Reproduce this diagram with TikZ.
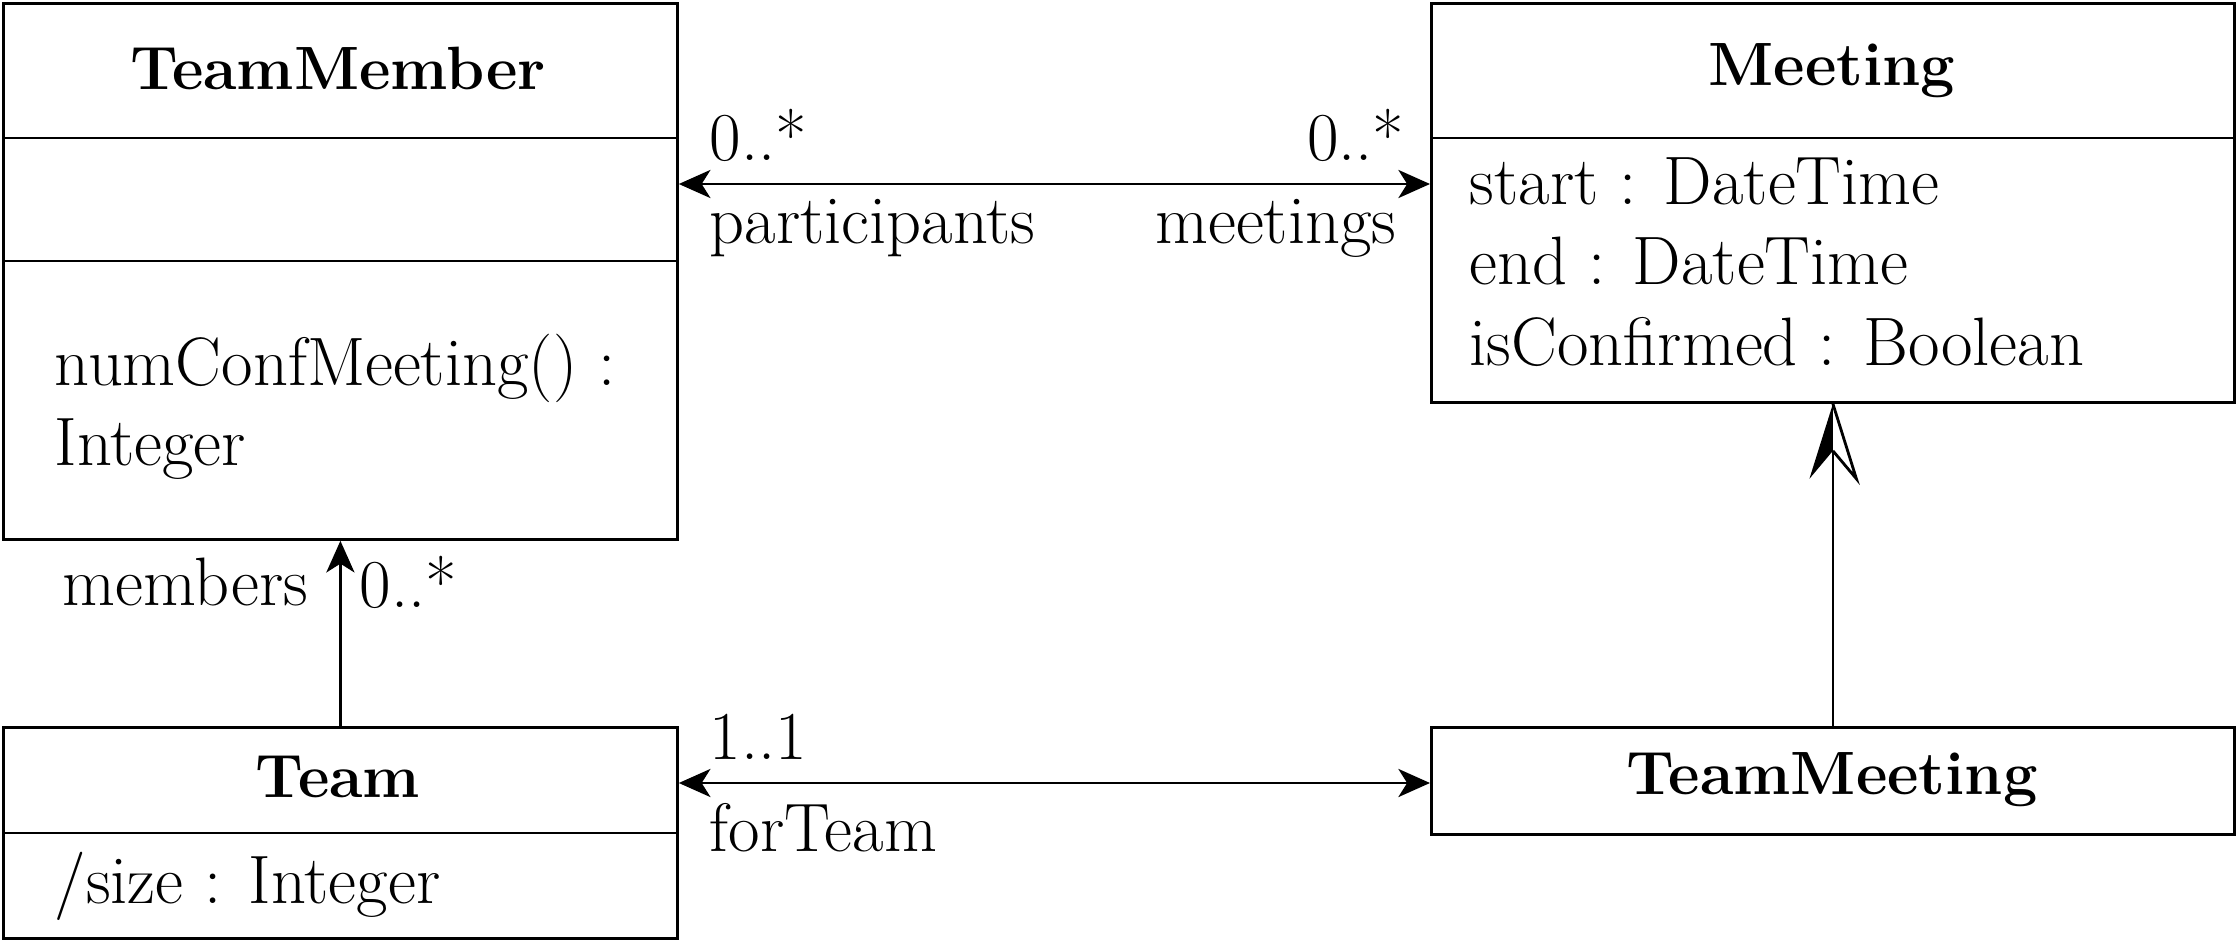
\documentclass[tikz,border=0pt]{standalone}
\usepackage{fontspec}
\usetikzlibrary{arrows.meta,calc}

\begin{document}
\begin{tikzpicture}[
	font=\fontsize{19.5}{23}\selectfont,
	cls/.style={draw, line width=0.8pt, inner sep=0pt, anchor=north west},
	clsname/.style={font=\fontsize{17.4}{21}\selectfont\bfseries, inner sep=0pt},
	attr/.style={anchor=west, inner sep=0pt},
	lbl/.style={inner sep=0pt},
	tip/.style={line width=0.8pt, -{Stealth[length=9pt, width=8pt, inset=2.5pt]}},
	assoc/.style={line width=0.8pt, {Stealth[length=9pt, width=8pt, inset=2.5pt]}-{Stealth[length=9pt, width=8pt, inset=2.5pt]}}
	]
		%%%%% START %%%%%
		\useasboundingbox (0, 0) rectangle (22.36, 9.40);
		
		% TeamMember
		\node[cls, minimum width=6.74cm, minimum height=5.36cm] (member) at (0.02, 9.38) {};
		\draw[line width=0.8pt] (member.west |- 0, 8.02) -- (member.east |- 0, 8.02);
		\draw[line width=0.8pt] (member.west |- 0, 6.79) -- (member.east |- 0, 6.79);
		\node[clsname] (membername) at (3.38, 8.72) {TeamMember};
		\node[attr] (opname) at (0.54, 5.72) {numConfMeeting() :};
		\node[attr] (optype) at (0.54, 4.91) {Integer};
		
		% Meeting
		\node[cls, minimum width=8.03cm, minimum height=3.99cm] (meeting) at (14.30, 9.38) {};
		\draw[line width=0.8pt] (meeting.west |- 0, 8.02) -- (meeting.east |- 0, 8.02);
		\node[clsname] (meetingname) at (18.32, 8.69) {Meeting};
		\node[attr] (astart) at (14.69, 7.59) {start : DateTime};
		\node[attr] (aend) at (14.69, 6.79) {end : DateTime};
		\node[attr] (aconf) at (14.69, 5.98) {isConfirmed : Boolean};
		
		% Team
		\node[cls, minimum width=6.74cm, minimum height=2.11cm] (team) at (0.02, 2.14) {};
		\draw[line width=0.8pt] (team.west |- 0, 1.07) -- (team.east |- 0, 1.07);
		\node[clsname] (teamname) at (3.38, 1.63) {Team};
		\node[attr] (asize) at (0.54, 0.54) {/size : Integer};
		
		% TeamMeeting
		\node[cls, minimum width=8.03cm, minimum height=1.07cm] (tmeeting) at (14.30, 2.14) {};
		\node[clsname] (tmeetingname) at (18.32, 1.60) {TeamMeeting};
		
		% participants / meetings
		\draw[assoc] (member.east |- 0, 7.56) -- (meeting.west |- 0, 7.56);
		\node[lbl, anchor=west] (pmult) at (7.09, 8.05) {0..*};
		\node[lbl, anchor=west] (prole) at (7.09, 7.12) {participants};
		\node[lbl, anchor=east] (mmult) at (14.05, 8.05) {0..*};
		\node[lbl, anchor=east] (mrole) at (13.97, 7.12) {meetings};
		
		% forTeam
		\draw[assoc] (team.east |- 0, 1.57) -- (tmeeting.west |- 0, 1.57);
		\node[lbl, anchor=west] (tmult) at (7.09, 2.03) {1..1};
		\node[lbl, anchor=west] (trole) at (7.09, 1.12) {forTeam};
		
		% members
		\draw[tip] (team.north) -- (member.south);
		\node[lbl, anchor=east] (mbrole) at (3.09, 3.58) {members};
		\node[lbl, anchor=west] (mbmult) at (3.59, 3.58) {0..*};
		
		% generalization
		\coordinate (gentip) at (meeting.south);
		\draw[line width=0.8pt] (tmeeting.north) -- ($(gentip)+(0, -0.47)$);
		\fill (gentip) -- ++(-0.235, -0.75) -- ++(0.235, 0.28) -- cycle;
		\draw[line width=0.8pt] (gentip) -- ++(0.235, -0.75) -- ++(-0.235, 0.28);
		
		%%%%% END %%%%%
	\end{tikzpicture}
\end{document}
